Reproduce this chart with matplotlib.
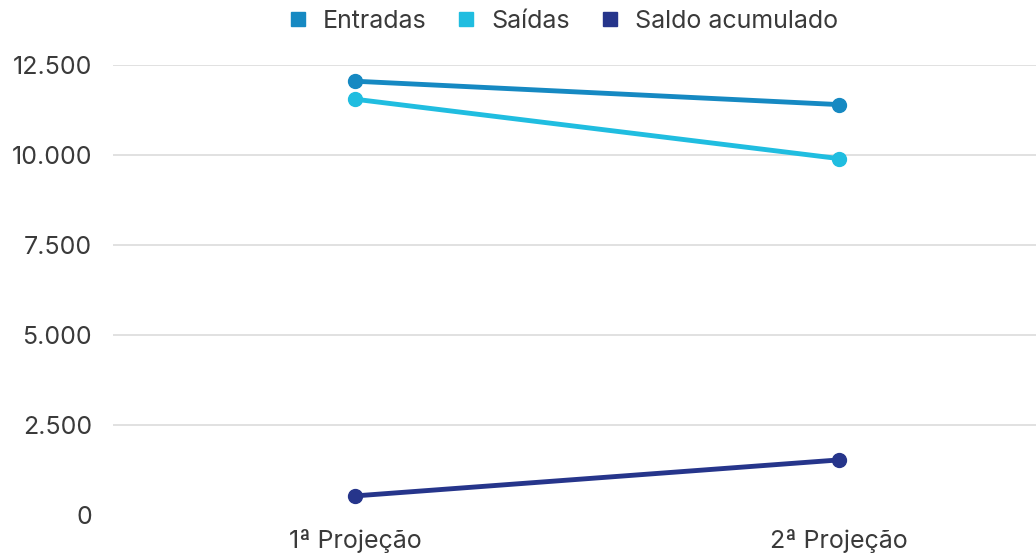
import matplotlib.pyplot as plt
from matplotlib.lines import Line2D
from matplotlib.ticker import FuncFormatter

categories = ["1ª Projeção", "2ª Projeção"]
entradas = [12050, 11400]
saidas = [11550, 9900]
saldo_acumulado = [530, 1530]

series_names = ["Entradas", "Saídas", "Saldo acumulado"]
series_colors = ["#1689c2", "#20bde0", "#26358b"]
y_ticks = [0, 2500, 5000, 7500, 10000, 12500]

plt.rcParams["font.family"] = ["Inter", "DejaVu Sans"]

fig = plt.figure(figsize=(10.36, 5.57), dpi=100)
ax = fig.add_axes([113 / 1036, 42 / 557, 923 / 1036, 450 / 557])

x = list(range(len(categories)))
for values, color in zip([entradas, saidas, saldo_acumulado], series_colors):
    ax.plot(x, values, color=color, linewidth=3.5, marker="o",
            markersize=10, solid_capstyle="round", zorder=3)

ax.set_xlim(-0.5, -0.5 + 923 / 484)
ax.set_ylim(0, 12500)
ax.set_yticks(y_ticks)
ax.yaxis.set_major_formatter(
    FuncFormatter(lambda v, _: f"{int(v):,}".replace(",", ".")))
ax.set_xticks(x)
ax.set_xticklabels(categories)

ax.grid(axis="y", color="#dcdcdc", linewidth=1.2)
ax.set_axisbelow(True)
# no line at zero
ax.get_ygridlines()[0].set_visible(False)
for spine in ax.spines.values():
    spine.set_visible(False)
ax.tick_params(axis="both", length=0, labelsize=18, colors="#3a3a3a")
ax.tick_params(axis="y", pad=15)
ax.tick_params(axis="x", pad=10)

handles = [Line2D([], [], marker="s", linestyle="none", markersize=9.5,
                  markerfacecolor=c, markeredgecolor=c) for c in series_colors]
fig.legend(handles, series_names, loc="center",
           bbox_to_anchor=(0.542, 0.962), ncol=3, frameon=False,
           fontsize=18, handletextpad=0.5, columnspacing=1.1,
           handlelength=1.0, labelcolor="#3a3a3a")

fig.savefig("out.png", dpi=100, facecolor="white")
